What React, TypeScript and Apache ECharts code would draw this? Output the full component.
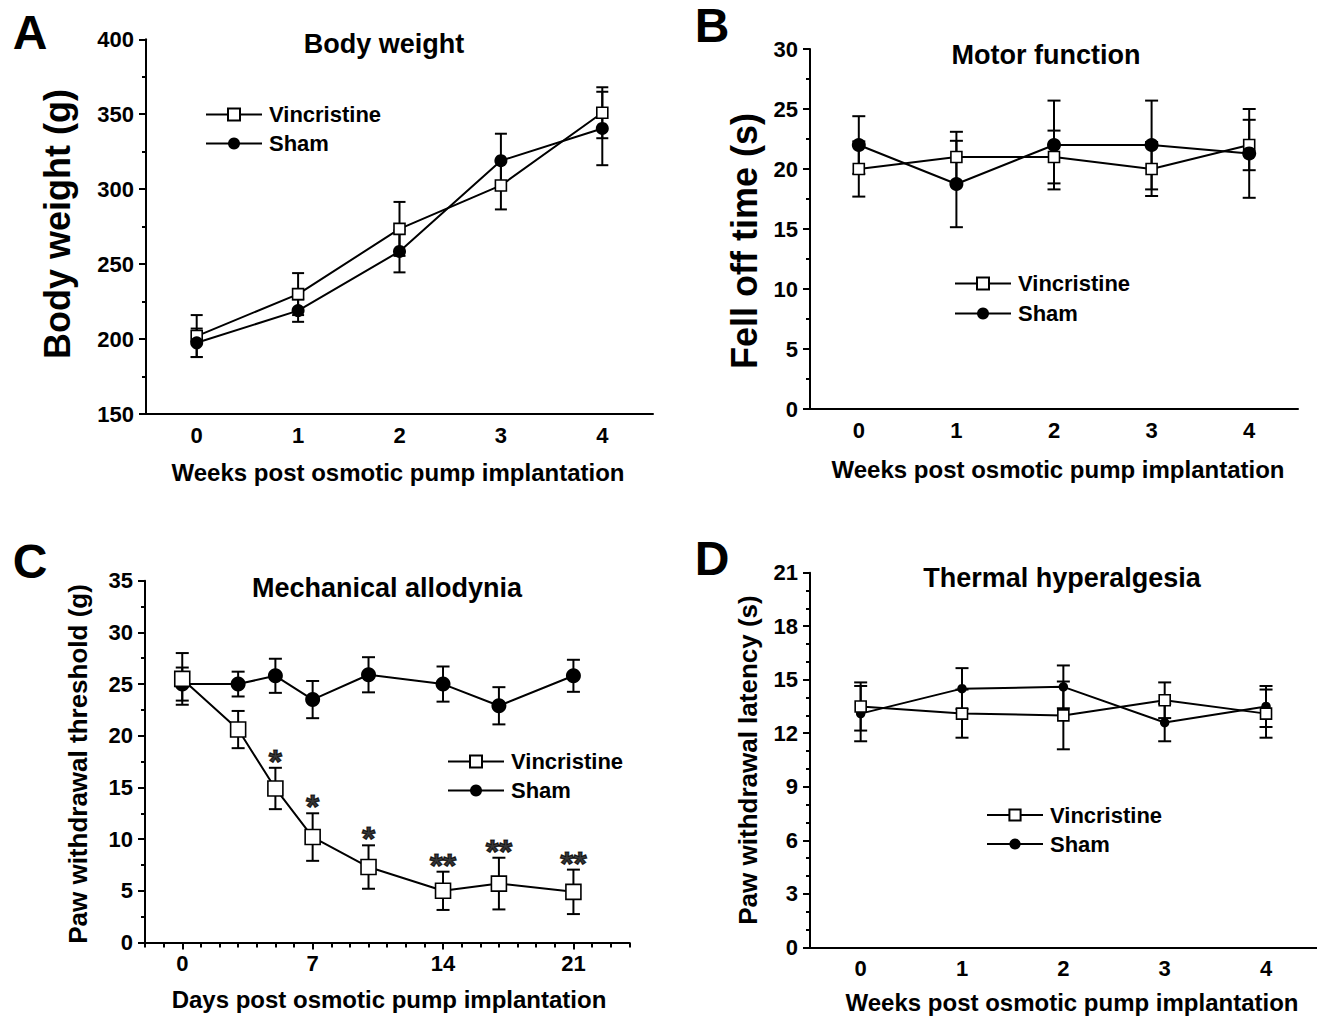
import React, { useEffect, useRef } from 'react';
import * as echarts from 'echarts';

const FONT = '"Liberation Sans", Arial, Helvetica, sans-serif';

// ---------- data ----------
const weekCats = ['0', '1', '2', '3', '4'];

// A: Body weight (g)
const bwVinc = [202, 230, 273.5, 302.5, 351];
const bwVincErr = [14, 14, 18, 16, 17];
const bwSham = [197.5, 219, 258.5, 319, 340.5];
const bwShamErr = [9.5, 7.5, 14, 18, 24.5];

// B: Motor function, fell off time (s)
const motorVinc = [20, 21, 21, 20, 22];
const motorVincErr = [2.3, 2.1, 2.2, 2.25, 2.1];
const motorSham = [22, 18.75, 22, 22, 21.3];
const motorShamErr = [2.4, 3.6, 3.7, 3.7, 3.7];

// C: Mechanical allodynia, paw withdrawal threshold (g)
const days = [0, 3, 5, 7, 10, 14, 17, 21];
const mechVinc = [25.5, 20.6, 14.9, 10.2, 7.3, 5.0, 5.7, 4.9];
const mechVincErr = [2.5, 1.8, 2.0, 2.3, 2.1, 1.85, 2.5, 2.15];
const mechSham = [25.0, 25.0, 25.8, 23.5, 25.9, 25.0, 22.9, 25.8];
const mechShamErr = [1.6, 1.2, 1.65, 1.8, 1.7, 1.7, 1.8, 1.55];
const mechSig = ['', '', '*', '*', '*', '**', '**', '**'];
const dayLabels = [0, 7, 14, 21];

// D: Thermal hyperalgesia, paw withdrawal latency (s)
const thermVinc = [13.5, 13.1, 13.0, 13.85, 13.1];
const thermVincErr = [1.35, 1.35, 1.9, 1.0, 1.35];
const thermSham = [13.1, 14.5, 14.6, 12.6, 13.5];
const thermShamErr = [1.55, 1.15, 1.2, 1.05, 1.15];

// ---------- helpers ----------
const weekIdx = weekCats.map((_, i) => i);

function errBars(name: string, xi: number, yi: number, xs: number[], means: number[], errs: number[], cap: number) {
  return {
    type: 'custom',
    name,
    xAxisIndex: xi,
    yAxisIndex: yi,
    z: 1,
    silent: true,
    data: means.map((m, i) => [xs[i], m, errs[i]]),
    encode: { x: 0, y: 1 },
    renderItem: (params: any, api: any) => {
      const x = api.value(0);
      const m = api.value(1);
      const e = api.value(2);
      const hi = api.coord([x, m + e]);
      const lo = api.coord([x, m - e]);
      const s = { stroke: '#000', lineWidth: 2 };
      return {
        type: 'group',
        children: [
          { type: 'line', shape: { x1: hi[0], y1: hi[1], x2: lo[0], y2: lo[1] }, style: s },
          { type: 'line', shape: { x1: hi[0] - cap, y1: hi[1], x2: hi[0] + cap, y2: hi[1] }, style: s },
          { type: 'line', shape: { x1: lo[0] - cap, y1: lo[1], x2: lo[0] + cap, y2: lo[1] }, style: s },
        ],
      };
    },
  };
}

function lineSeries(name: string, xi: number, yi: number, data: any[], filled: boolean, size: number, z: number) {
  return {
    type: 'line',
    name,
    xAxisIndex: xi,
    yAxisIndex: yi,
    data,
    symbol: filled ? 'circle' : 'rect',
    symbolSize: size,
    showAllSymbol: true,
    z,
    silent: true,
    lineStyle: { color: '#000', width: 2 },
    itemStyle: filled ? { color: '#000' } : { color: '#fff', borderColor: '#000', borderWidth: 1.6 },
    emphasis: { disabled: true },
  };
}

const axisLineStyle = { onZero: false, lineStyle: { color: '#000', width: 2 } };
const tickStyle = { length: 7, lineStyle: { color: '#000', width: 2 } };
const labelStyle = (margin: number) => ({
  color: '#000',
  fontSize: 22,
  fontWeight: 'bold',
  fontFamily: FONT,
  margin,
});

function catX(gridIndex: number) {
  return {
    type: 'category',
    gridIndex,
    position: 'bottom',
    data: weekCats,
    boundaryGap: true,
    axisLine: axisLineStyle,
    axisTick: { ...tickStyle, alignWithLabel: true },
    axisLabel: labelStyle(10),
    splitLine: { show: false },
  };
}

function valY(gridIndex: number, min: number, max: number, interval: number, minorSplit: number) {
  return {
    type: 'value',
    gridIndex,
    position: 'left',
    min,
    max,
    interval,
    axisLine: { show: true, ...axisLineStyle },
    axisTick: { show: true, ...tickStyle },
    minorTick: { show: true, splitNumber: minorSplit, length: 4, lineStyle: { color: '#000', width: 2 } },
    axisLabel: labelStyle(12),
    splitLine: { show: false },
    minorSplitLine: { show: false },
  };
}

function legend(left: number, top: number, gap: number, size: number) {
  return {
    data: ['Vincristine', 'Sham'],
    orient: 'vertical',
    left,
    top,
    padding: 0,
    itemWidth: 56,
    itemHeight: size,
    itemGap: gap,
    selectedMode: false,
    lineStyle: { color: '#000', width: 2 },
    textStyle: { color: '#000', fontSize: 22, fontWeight: 'bold', fontFamily: FONT, padding: [0, 0, 0, 2] },
  };
}

function txt(text: string, x: number, y: number, size: number, rotate = false) {
  return {
    type: 'text',
    x,
    y,
    rotation: rotate ? Math.PI / 2 : 0,
    silent: true,
    style: {
      text,
      fill: '#000',
      fontSize: size,
      fontWeight: 'bold',
      fontFamily: FONT,
      align: 'center',
      verticalAlign: 'middle',
      textAlign: 'center',
      textVerticalAlign: 'middle',
    },
  };
}

export default function App() {
  const ref = useRef<HTMLDivElement>(null);

  useEffect(() => {
    if (!ref.current) return;
    const chart = echarts.init(ref.current, undefined, { renderer: 'svg' });

    const option: any = {
      animation: false,
      backgroundColor: '#fff',
      grid: [
        { left: 146, top: 39.3, width: 507, height: 374.7 },
        { left: 810, top: 49, width: 488, height: 360 },
        { left: 145, top: 580.7, width: 484.3, height: 361.8 },
        { left: 810, top: 572.7, width: 506.7, height: 374.6 },
      ],
      xAxis: [
        catX(0),
        catX(1),
        {
          type: 'value',
          gridIndex: 2,
          position: 'bottom',
          min: -2,
          max: 24,
          axisLine: axisLineStyle,
          axisTick: { ...tickStyle, customValues: dayLabels },
          axisLabel: { ...labelStyle(10), customValues: dayLabels },
          splitLine: { show: false },
        },
        {
          type: 'value',
          gridIndex: 2,
          position: 'bottom',
          min: -2,
          max: 24,
          interval: 1,
          axisLine: { show: false, onZero: false },
          axisTick: { show: true, length: 5, lineStyle: { color: '#000', width: 2 } },
          axisLabel: { show: false },
          splitLine: { show: false },
        },
        catX(3),
      ],
      yAxis: [
        valY(0, 150, 400, 50, 2),
        valY(1, 0, 30, 5, 2),
        valY(2, 0, 35, 5, 2),
        valY(3, 0, 21, 3, 3),
      ],
      legend: [
        legend(205, 103.5, 7, 15),
        legend(954, 272.5, 8, 15),
        legend(447, 750.5, 7, 15),
        legend(986, 804, 7, 14),
      ],
      series: [
        // A
        errBars('errA1', 0, 0, weekIdx, bwVinc, bwVincErr, 6),
        errBars('errA2', 0, 0, weekIdx, bwSham, bwShamErr, 6),
        lineSeries('Vincristine', 0, 0, bwVinc, false, 11, 3),
        lineSeries('Sham', 0, 0, bwSham, true, 13, 4),
        // B
        errBars('errB1', 1, 1, weekIdx, motorVinc, motorVincErr, 6.5),
        errBars('errB2', 1, 1, weekIdx, motorSham, motorShamErr, 6.5),
        lineSeries('Vincristine', 1, 1, motorVinc, false, 11, 3),
        lineSeries('Sham', 1, 1, motorSham, true, 14, 4),
        // C
        errBars('errC1', 2, 2, days, mechVinc, mechVincErr, 6.5),
        errBars('errC2', 2, 2, days, mechSham, mechShamErr, 6.5),
        lineSeries('Sham', 2, 2, days.map((d, i) => [d, mechSham[i]]), true, 15, 3),
        lineSeries('Vincristine', 2, 2, days.map((d, i) => [d, mechVinc[i]]), false, 15, 4),
        {
          type: 'scatter',
          name: 'sig',
          xAxisIndex: 2,
          yAxisIndex: 2,
          z: 5,
          silent: true,
          symbolSize: 1,
          itemStyle: { color: 'rgba(0,0,0,0)' },
          data: days.map((d, i) => [d, mechVinc[i] + mechVincErr[i]]),
          label: {
            show: true,
            position: 'inside',
            offset: [0, -7],
            formatter: (p: any) => mechSig[p.dataIndex],
            color: '#000',
            fontSize: 34,
            fontWeight: 'bold',
            fontFamily: FONT,
            textBorderColor: '#000',
            textBorderWidth: 1.2,
          },
        },
        // D
        errBars('errD1', 4, 3, weekIdx, thermVinc, thermVincErr, 6.5),
        errBars('errD2', 4, 3, weekIdx, thermSham, thermShamErr, 6.5),
        lineSeries('Sham', 4, 3, thermSham, true, 9.5, 3),
        lineSeries('Vincristine', 4, 3, thermVinc, false, 11, 4),
      ],
      graphic: [
        // panel letters
        txt('A', 30, 32, 48),
        txt('B', 712, 25, 48),
        txt('C', 30, 561, 48),
        txt('D', 712, 558, 48),
        // titles
        txt('Body weight', 384, 44, 27),
        txt('Motor function', 1046, 55, 27),
        txt('Mechanical allodynia', 387, 588, 27),
        txt('Thermal hyperalgesia', 1062, 578, 27),
        // x axis names
        txt('Weeks post osmotic pump implantation', 398, 472, 24),
        txt('Weeks post osmotic pump implantation', 1058, 469, 24),
        txt('Days post osmotic pump implantation', 389, 999, 24),
        txt('Weeks post osmotic pump implantation', 1072, 1002, 24),
        // y axis names
        txt('Body weight (g)', 57, 224, 36, true),
        txt('Fell off time (s)', 744, 241, 36, true),
        txt('Paw withdrawal threshold (g)', 78, 764, 26, true),
        txt('Paw withdrawal latency (s)', 748, 760, 26, true),
      ],
    };

    chart.setOption(option);
    return () => {
      chart.dispose();
    };
  }, []);

  return (
    <div
      ref={ref}
      style={{ position: 'absolute', left: 0, top: 0, width: 1317, height: 1018, background: '#fff' }}
    />
  );
}
